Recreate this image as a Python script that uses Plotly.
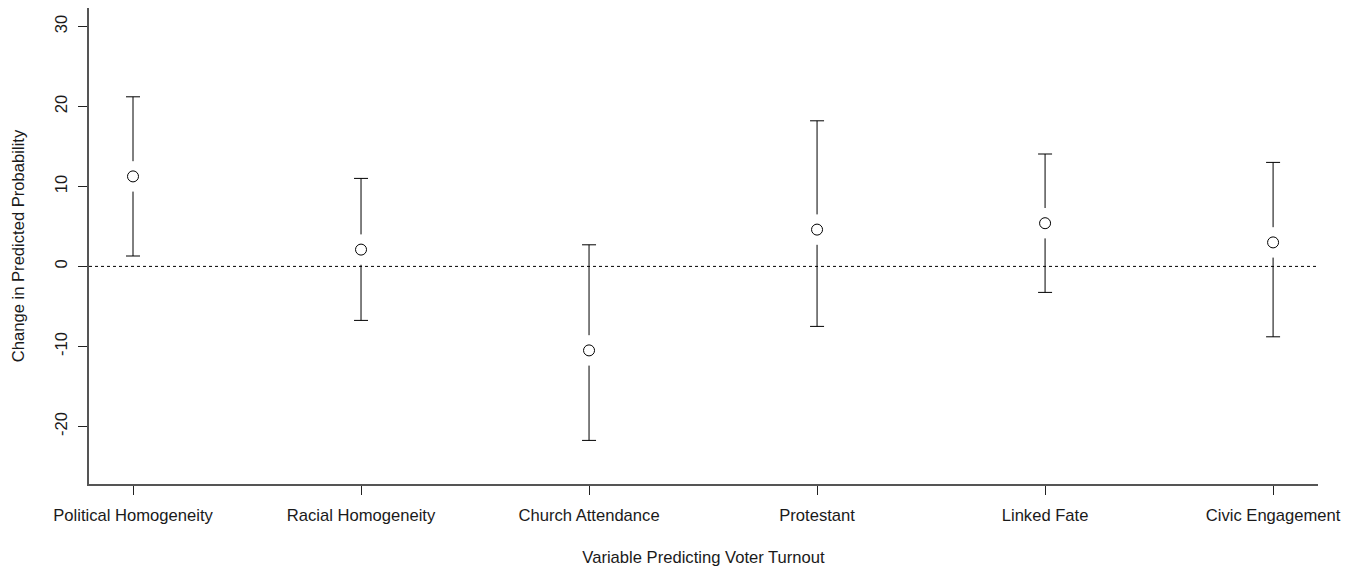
import plotly.graph_objects as go

categories = ["Political Homogeneity", "Racial Homogeneity", "Church Attendance",
              "Protestant", "Linked Fate", "Civic Engagement"]
estimate = [11.25, 2.1, -10.5, 4.6, 5.4, 3.0]
upper = [21.2, 11.0, 2.7, 18.2, 14.05, 13.0]
lower = [1.3, -6.75, -21.75, -7.5, -3.25, -8.8]
y_ticks = [-20, -10, 0, 10, 20, 30]
y_tick_labels = ["-20", "-10", "0", "10", "20", "30"]

GAP = 1.9  # gap between circle and whisker, in data units
FONT = "Liberation Sans, Arial, sans-serif"
FS = 16.6

xpos = list(range(1, len(categories) + 1))

seg_x, seg_y = [], []
for x, e, hi, lo in zip(xpos, estimate, upper, lower):
    seg_x += [x, x, None, x, x, None]
    seg_y += [e + GAP, hi, None, e - GAP, lo, None]

fig = go.Figure()
fig.add_hline(y=0, line=dict(color="black", width=1, dash="dot"), layer="below")
fig.add_trace(go.Scatter(x=seg_x, y=seg_y, mode="lines",
                         line=dict(color="black", width=1), hoverinfo="skip",
                         showlegend=False))
fig.add_trace(go.Scatter(x=xpos + xpos, y=upper + lower, mode="markers",
                         marker=dict(symbol="line-ew-open", size=10, color="black",
                                     line=dict(color="black", width=1)),
                         hoverinfo="skip", showlegend=False))
fig.add_trace(go.Scatter(x=xpos, y=estimate, mode="markers",
                         marker=dict(symbol="circle", size=11, color="white",
                                     line=dict(color="black", width=1)),
                         showlegend=False))

fig.update_layout(
    width=1353, height=564,
    margin=dict(l=81, r=43, t=0, b=88),
    plot_bgcolor="white", paper_bgcolor="white",
    font=dict(family=FONT, size=FS, color="#1a1a1a"),
    xaxis=dict(range=[0.807, 6.197], tickmode="array", tickvals=xpos,
               ticktext=categories, showgrid=False, zeroline=False,
               showline=True, linecolor="#555", linewidth=1.5,
               ticks="outside", ticklen=9, tickcolor="#222", tickwidth=1,
               tickfont=dict(size=FS), automargin=False, ticklabelstandoff=6,
               title=dict(text="Variable Predicting Voter Turnout",
                          font=dict(size=FS), standoff=28)),
    yaxis=dict(range=[-27.2, 32.3], tickmode="array", tickvals=y_ticks,
               ticktext=y_tick_labels,
               showgrid=False, zeroline=False,
               showline=True, linecolor="#555", linewidth=1.5,
               ticks="outside", ticklen=9, tickcolor="#222", tickwidth=1,
               tickangle=-90, tickfont=dict(size=FS), automargin=False,
               ticklabelstandoff=5,
               title=dict(text="Change in Predicted Probability",
                          font=dict(size=FS), standoff=23)),
)

fig.write_html("out.html")
